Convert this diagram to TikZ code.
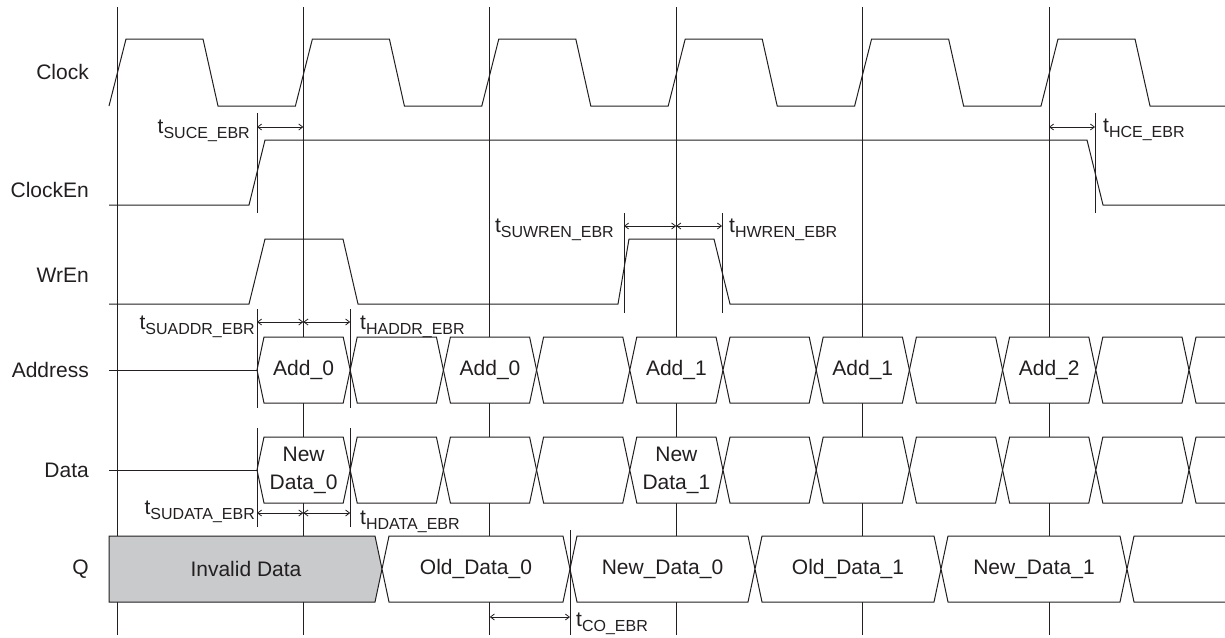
\documentclass[tikz,border=0pt]{standalone}
\usepackage{fontspec}
\setmainfont{Liberation Sans}
\usetikzlibrary{arrows.meta}
\definecolor{invGray}{RGB}{201,202,204}
\definecolor{inkGray}{RGB}{35,31,32}
\newcommand{\tsub}[1]{t\raisebox{-5pt}{\fontsize{16}{16}\selectfont #1}}

\begin{document}
\begin{tikzpicture}[x=1pt, y=-1pt,
  grid/.style={line width=1pt, inkGray},
  wave/.style={line width=1pt, inkGray},
  bus/.style={line width=1pt, draw=inkGray, fill=white},
  tick/.style={line width=1pt, inkGray},
  dim/.style={{Straight Barb[length=4pt,width=6pt]}-{Straight Barb[length=4pt,width=6pt]}, line width=0.8pt, inkGray},
  sig/.style={font=\fontsize{21}{24}\selectfont, text=inkGray, anchor=east, inner sep=0pt},
  val/.style={font=\fontsize{21}{28}\selectfont, text=inkGray, align=center, inner sep=0pt},
  tlab/.style={font=\fontsize{21}{24}\selectfont, text=inkGray, inner sep=0pt}
]
  \useasboundingbox (0,0) rectangle (1225,637);

  % clock edge lines
  \foreach \c in {117,303.4,489.8,676.2,862.6,1049}
    \draw[grid] (\c,7) -- (\c,635);

  % signal names
  \node[sig] (nClock) at (89,72) {Clock};
  \node[sig] (nClockEn) at (89,190) {ClockEn};
  \node[sig] (nWrEn) at (89,275) {WrEn};
  \node[sig] (nAddress) at (89,370) {Address};
  \node[sig] (nData) at (89,470) {Data};
  \node[sig] (nQ) at (89,569) {Q};

  % clock, clock enable, write enable
  \draw[wave] (109,106) \foreach \c in {117,303.4,489.8,676.2,862.6,1049}
    { -- (\c-8,106) -- (\c+9,39) -- (\c+86,39) -- (\c+101,106) } -- (1225,106);
  \draw[wave] (109,205) -- (249,205) -- (265,140) -- (1087,140) -- (1103,205) -- (1225,205);
  \draw[wave] (109,304) -- (249,304) -- (265,239) -- (343,239) -- (358,304)
    -- (618,304) -- (629,239) -- (714,239) -- (730,304) -- (1225,304);

  % address bus
  \draw[wave] (109,370) -- (257,370);
  \foreach \xa/\xb/\txt [count=\i] in {257/350.2/Add\_0, 350.2/443.4/{}, 443.4/536.6/Add\_0,
      536.6/629.8/{}, 629.8/723/Add\_1, 723/816.2/{}, 816.2/909.4/Add\_1, 909.4/1002.6/{},
      1002.6/1095.8/Add\_2, 1095.8/1189/{}} {
    \draw[bus] (\xa,370) -- (\xa+7,337) -- (\xb-7,337) -- (\xb,370) -- (\xb-7,403) -- (\xa+7,403) -- cycle;
    \node[val] (add\i) at ({(\xa+\xb)/2},370) {\txt};
  }
  \draw[bus] (1225,337) -- (1196,337) -- (1189,370) -- (1196,403) -- (1225,403);

  % data bus
  \draw[wave] (109,470) -- (257,470);
  \foreach \xa/\xb/\txt [count=\i] in {257/350.2/New\\Data\_0, 350.2/443.4/{}, 443.4/536.6/{},
      536.6/629.8/{}, 629.8/723/New\\Data\_1, 723/816.2/{}, 816.2/909.4/{}, 909.4/1002.6/{},
      1002.6/1095.8/{}, 1095.8/1189/{}} {
    \draw[bus] (\xa,470) -- (\xa+7,437) -- (\xb-7,437) -- (\xb,470) -- (\xb-7,503) -- (\xa+7,503) -- cycle;
    \node[val] (dat\i) at ({(\xa+\xb)/2},470) {\txt};
  }
  \draw[bus] (1225,437) -- (1196,437) -- (1189,470) -- (1196,503) -- (1225,503);

  % output
  \draw[bus, fill=invGray] (109,536) -- (375,536) -- (382,569) -- (375,602) -- (109,602) -- cycle;
  \node[val] (qInv) at (246,569) {Invalid Data};
  \foreach \xa/\xb/\txt [count=\i] in {382/570/Old\_Data\_0, 570/755/New\_Data\_0,
      755/941/Old\_Data\_1, 941/1127/New\_Data\_1} {
    \draw[bus] (\xa,569) -- (\xa+7,536) -- (\xb-7,536) -- (\xb,569) -- (\xb-7,602) -- (\xa+7,602) -- cycle;
    \node[val] (q\i) at ({(\xa+\xb)/2},569) {\txt};
  }
  \draw[bus] (1225,536) -- (1134,536) -- (1127,569) -- (1134,602) -- (1225,602);

  % timing marks
  \draw[tick] (257,113) -- (257,213);
  \draw[dim] (257,127) -- (303.4,127);
  \node[tlab, anchor=base east] (tSuce) at (250,133) {\tsub{SUCE\_EBR}};
  \draw[tick] (1095,113) -- (1095,213);
  \draw[dim] (1049,127) -- (1095,127);
  \node[tlab, anchor=base west] (tHce) at (1103,132) {\tsub{HCE\_EBR}};

  \draw[tick] (624,213) -- (624,313);
  \draw[tick] (722,213) -- (722,313);
  \draw[dim] (624,226) -- (676.2,226);
  \draw[dim] (676.2,226) -- (722,226);
  \node[tlab, anchor=base east] (tSuwren) at (614,232) {\tsub{SUWREN\_EBR}};
  \node[tlab, anchor=base west] (tHwren) at (729,232) {\tsub{HWREN\_EBR}};

  \draw[tick] (257,309) -- (257,408);
  \draw[tick] (350.2,309) -- (350.2,408);
  \draw[dim] (257,322) -- (303.4,322);
  \draw[dim] (303.4,322) -- (350.2,322);
  \node[tlab, anchor=base east] (tSuaddr) at (255,329) {\tsub{SUADDR\_EBR}};
  \node[tlab, anchor=base west] (tHaddr) at (360,329) {\tsub{HADDR\_EBR}};

  \draw[tick] (257,428) -- (257,527);
  \draw[tick] (350.2,428) -- (350.2,527);
  \draw[dim] (257,513) -- (303.4,513);
  \draw[dim] (303.4,513) -- (350.2,513);
  \node[tlab, anchor=base east] (tSudata) at (255,514) {\tsub{SUDATA\_EBR}};
  \node[tlab, anchor=base west] (tHdata) at (360,524) {\tsub{HDATA\_EBR}};

  \draw[tick] (570,530) -- (570,635);
  \draw[dim] (489.8,617) -- (570,617);
  \node[tlab, anchor=base west] (tCo) at (576,626) {\tsub{CO\_EBR}};
\end{tikzpicture}
\end{document}
